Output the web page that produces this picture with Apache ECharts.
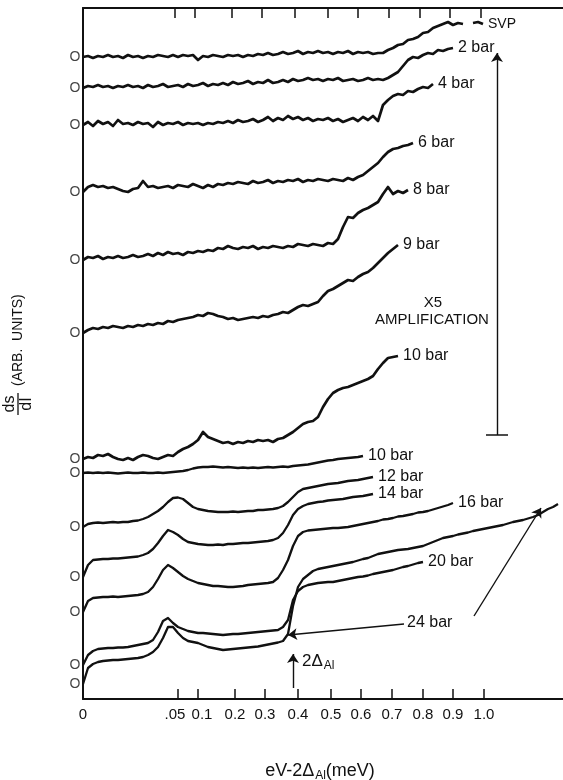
<!DOCTYPE html>
<html><head><meta charset="utf-8">
<script src="https://cdn.jsdelivr.net/npm/echarts@6/dist/echarts.min.js"></script>
<style>html,body{margin:0;padding:0;background:#fff}#c{width:563px;height:780px}</style>
</head><body><div id="c"></div>
<script>
// x axis: trace position (arbitrary units, 0..480); tick labels are eV-2Δ values
const xStep = 5;
const tickPositions = [0, 95, 115, 152, 182, 215, 248, 278, 309, 340, 370, 401];
const tickLabels = ['0', '.05', '0.1', '0.2', '0.3', '0.4', '0.5', '0.6', '0.7', '0.8', '0.9', '1.0'];

// trace values (relative to each trace's own zero), sampled every xStep
const svp = [0,1,-1,1,0,2,0,1,-1,2, 0,1,-1,1,0,2,1,0,2,0, 2,1,2,-3,1,0,2,1,0,2, 1,2,0,2,1,3,2,4,2,3, 5,3,4,6,3,5,4,6,4,5, 3,5,4,6,3,5,4,5,3,4, 4,7,9,12,13,17,18,20,24,25, 29,31,33,35,32,34,33,null,34,35, 33];
const bar2 = [0,2,1,3,1,2,0,2,1,3, 1,2,0,3,1,2,4,1,2,3, 1,4,2,3,5,2,4,3,5,3, 6,4,5,7,4,6,5,8,5,6, 8,6,9,7,8,10,8,9,7,9, 8,10,7,8,9,7,8,10,8,9, 8,10,13,16,22,28,31,30,33,35, 34,38,37,39,40];
const bar4 = [0,3,-1,4,1,3,-1,5,1,2, 0,3,1,2,-2,3,0,2,1,3, 0,2,1,2,0,2,1,3,2,4, 2,5,3,4,6,3,5,8,4,7, 5,9,6,8,5,7,4,6,5,7, 4,6,3,5,7,4,8,5,9,4, 20,25,29,31,30,34,33,36,38,37, 41];
const bar6 = [-2,3,5,3,4,2,3,1,-1,-2, 1,2,9,3,4,2,3,4,2,5, 4,3,6,4,2,5,3,6,5,7, 6,8,7,6,9,7,8,10,7,9, 8,10,9,11,8,10,9,11,10,9, 11,10,9,12,10,13,15,19,23,27, 33,38,41,42,44,45,47];
const bar8 = [0,3,2,4,1,3,2,4,2,3, 5,3,4,6,4,7,5,8,6,7, 5,8,7,9,8,10,9,12,11,14, 12,11,13,12,14,11,13,12,14,13, 12,14,13,16,15,14,16,15,14,17, 16,21,33,43,42,47,50,52,55,58, 66,73,66,69,67,70];
const bar9 = [0,3,5,4,6,5,7,6,5,7, 6,8,7,9,8,10,9,12,11,13, 14,15,16,18,17,20,19,17,16,14, 15,13,14,15,16,15,17,16,18,19, 21,20,23,26,28,27,29,31,37,42, 44,47,50,53,52,56,59,61,65,70, 75,80,84,88];
const bar10amp = [0,2,1,4,3,5,2,0,-1,1, -1,2,4,3,1,0,2,4,3,7, 10,12,15,19,27,22,20,18,16,17, 15,17,16,18,17,19,18,19,17,20, 21,24,27,31,35,37,38,42,52,60, 66,69,71,72,74,76,78,80,83,90, 96,101,102,103];
const bar10 = [0,0.5,0,0.5,0,0.5,0,-0.5,0,0.5, 0,0,0.5,0,0,0.5,0,0.5,1,1.5, 2,3,4.5,5.5,6,6,6.5,6,5.5,6, 5.5,5,5.5,5,5.5,5,5.5,6,5.5,6, 6.5,6,7,7.5,8,8.5,9.5,10.5,11.5,12.5, 13,14,14.5,15,15.5,16,17];
const bar12 = [0,3,4,4.5,4,4.5,5,4.5,5,5, 6,6.5,8,10,13,16,20,25,29,29.5, 28,24,20,18,17,16,15.5,15,15,15, 15.5,15,15.5,16,16,17,17,17.5,18,19, 21,25,30,35,38,39,40,41,42,43, 43.5,44,45,46,46.5,47,48,49,50];
const bar14 = [0,12,17,17.5,18,18,18.5,18.5,19,19.5, 20,20.5,22,24,28,34,41,47,45,42, 38,35,34,33,32.5,32,32,32.5,32,33, 33,33.5,34,34,34.5,35,35.5,36,37,39, 44,52,62,68,71,73,74,75,75.5,76.5, 77,77.5,78,79,80,80.5,81,82,83];
const bar16 = [0,11,14,14.5,15,15,15.5,15,15.5,16, 16.5,17,18,20,25,33,42,47,44,40, 36,33,31,29,28,27,26,26,25.5,25, 25,25.5,26,27,27.5,28,28.5,29,30,34, 42,52,66,76,80,81.5,82,82.5,83,83.5, 84,84,84.5,85,86,87,88,89,90,91, 92.5,93,94,95.5,96,97,98,99.5,100,101, 102.5,104,105.5,107,109];
const bar20 = [0,10,14,16,16.5,17,17,17.5,17.5,18, 19,20,21,22,25,33,44,47,42,38, 36,34,33,32,32,31.5,31,30.5,30,30.5, 31,31,31.5,32,32.5,33,33.5,34,34.5,35, 38,45,65,74,78,80,81,82,82.5,83, 83,84,85,86,87,88,88.5,89.5,91,92, 93,94,95,96.5,98,99,100.5,102,103];
const bar24 = [0,16,20,22,23,23.5,24,24,24.5,25, 25.5,26,27,29,32,37,46,57,57,51, 46,43,42,41,39,37,36,35,34,34.5, 35,35.5,36,36.5,37,37.5,38.5,39.5,40.5,41.5, 43,50,78,97,105,109,113,115,116,117, 118,119,120,121,122,123.5,125,126,128,130, 131,132,133,134,134.5,135,136,137,138,140, 142,144,146,147,148,149.5,150.5,151.5,153,154, 155,156,157,158,159,160.5,162,163,164,165.5, 167,169,172,175,177,180];

const traceNames = ['SVP', '2 bar', '4 bar', '6 bar', '8 bar', '9 bar', '10 bar', '10 bar', '12 bar', '14 bar', '16 bar', '20 bar', '24 bar'];
const traceOffsets = [642, 611, 574, 509, 439, 366, 240, 226, 172, 122, 87, 34, 15];
const traceValues = [svp, bar2, bar4, bar6, bar8, bar9, bar10amp, bar10, bar12, bar14, bar16, bar20, bar24];
const amplified = [true, true, true, true, true, true, true, false, false, false, false, false, false];

// annotation anchors (data units)
const ampArrowX = 414, ampArrowBottom = 264, ampArrowTop = 646, ampBarHalf = 11;
const gapArrowX = 210, gapArrowBottom = 11, gapArrowTop = 45;
const label24Tail1 = [321, 75], label24Tail2 = [391, 83];
const arrow24Index1 = 41, arrow24Index2 = 92;

const FONT = '"Liberation Sans", Arial, Helvetica, sans-serif';
const INK = '#111';

const lineSeries = traceNames.map((name, k) => ({
  type: 'line',
  name: name,
  data: traceValues[k].map((v, i) => [i * xStep, v == null ? '-' : traceOffsets[k] + v]),
  symbol: 'none',
  showSymbol: false,
  connectNulls: false,
  lineStyle: { color: INK, width: amplified[k] ? 2.7 : 2.3, join: 'round' },
  endLabel: {
    show: name !== '24 bar',
    formatter: () => name,
    color: INK,
    fontFamily: FONT,
    fontSize: name === 'SVP' ? 14 : 16,
    distance: 5
  },
  silent: true,
  z: 3
}));

const zeroMarks = {
  type: 'scatter',
  data: traceValues.map((vals, k) => [0, traceOffsets[k] + vals[0]]),
  symbolSize: 1,
  itemStyle: { color: 'rgba(0,0,0,0)' },
  label: { show: true, position: 'left', distance: 2, formatter: 'O', color: INK, fontFamily: FONT, fontSize: 14 },
  silent: true
};

const y24a = traceOffsets[12] + bar24[arrow24Index1];
const y24b = traceOffsets[12] + bar24[arrow24Index2];
const arrows = {
  type: 'lines',
  coordinateSystem: 'cartesian2d',
  symbol: ['none', 'arrow'],
  symbolSize: [0, 9],
  lineStyle: { color: INK, width: 1.4, opacity: 1, curveness: 0 },
  data: [
    { coords: [[ampArrowX, ampArrowBottom], [ampArrowX, ampArrowTop]] },
    { coords: [[gapArrowX, gapArrowBottom], [gapArrowX, gapArrowTop]] },
    { coords: [label24Tail1, [arrow24Index1 * xStep, y24a - 1]] },
    { coords: [label24Tail2, [arrow24Index2 * xStep - 2, y24b + 4]] }
  ],
  silent: true,
  z: 4
};
const ampBar = {
  type: 'lines',
  coordinateSystem: 'cartesian2d',
  symbol: ['none', 'none'],
  lineStyle: { color: INK, width: 1.6, opacity: 1 },
  data: [{ coords: [[ampArrowX - ampBarHalf, ampArrowBottom], [ampArrowX + ampBarHalf, ampArrowBottom]] }],
  silent: true
};

const option = {
  animation: false,
  backgroundColor: '#fff',
  grid: { left: 83, top: 8, width: 480, height: 691 },
  xAxis: [{
    type: 'value', min: 0, max: 480, position: 'bottom',
    axisLine: { show: true, lineStyle: { color: INK, width: 2 } },
    axisTick: { show: true, inside: true, length: 10, customValues: tickPositions.slice(1), lineStyle: { color: INK, width: 1.5 } },
    axisLabel: {
      show: true, customValues: tickPositions, margin: 8, color: INK, fontFamily: FONT, fontSize: 15,
      formatter: v => {
        const t = tickLabels[tickPositions.indexOf(v)];
        if (t === '.05') return '{l|' + t + '}';
        if (t === '0.1') return '{r|' + t + '}';
        return t;
      },
      rich: {
        l: { fontSize: 15, fontFamily: FONT, color: INK, padding: [0, 6, 0, 0] },
        r: { fontSize: 15, fontFamily: FONT, color: INK, padding: [0, 0, 0, 8] }
      }
    },
    splitLine: { show: false }
  }, {
    type: 'value', min: 0, max: 480, position: 'top',
    axisLine: { show: true, lineStyle: { color: INK, width: 2 } },
    axisTick: { show: true, inside: true, length: 10, customValues: tickPositions.slice(1).map(p => p - 3), lineStyle: { color: INK, width: 1.5 } },
    axisLabel: { show: false },
    splitLine: { show: false }
  }],
  yAxis: {
    type: 'value', min: 0, max: 691,
    axisLine: { show: true, lineStyle: { color: INK, width: 2 } },
    axisTick: { show: false }, axisLabel: { show: false }, splitLine: { show: false }
  },
  series: [...lineSeries, zeroMarks, arrows, ampBar],
  graphic: [
    { type: 'text', x: 433, y: 303, style: { text: 'X5', fill: INK, font: '15px ' + FONT, textAlign: 'center', textVerticalAlign: 'middle' } },
    { type: 'text', x: 432, y: 320, style: { text: 'AMPLIFICATION', fill: INK, font: '15px ' + FONT, textAlign: 'center', textVerticalAlign: 'middle' } },
    { type: 'text', x: 407, y: 623, style: { text: '24 bar', fill: INK, font: '16px ' + FONT, textAlign: 'left', textVerticalAlign: 'middle' } },
    { type: 'text', x: 302, y: 661, style: {
      text: '{n|2Δ}{s|Al}', textAlign: 'left', textVerticalAlign: 'middle',
      rich: { n: { fontSize: 17, fontFamily: FONT, fill: INK, color: INK }, s: { fontSize: 12, fontFamily: FONT, fill: INK, color: INK, padding: [9, 0, 0, 1] } }
    } },
    { type: 'text', x: 320, y: 771, style: {
      text: '{n|eV-2Δ}{s|Al}{n|(meV)}', textAlign: 'center', textVerticalAlign: 'middle',
      rich: { n: { fontSize: 18, fontFamily: FONT, fill: INK, color: INK }, s: { fontSize: 12, fontFamily: FONT, fill: INK, color: INK, padding: [10, 0, 0, 1] } }
    } },
    { type: 'group', x: 18, y: 416, rotation: Math.PI / 2, children: [
      { type: 'text', x: 12, y: -8, style: { text: 'ds', fill: INK, font: '16px ' + FONT, textAlign: 'center', textVerticalAlign: 'middle' } },
      { type: 'line', shape: { x1: 1, y1: 0, x2: 23, y2: 0 }, style: { stroke: INK, lineWidth: 1.3 } },
      { type: 'text', x: 12, y: 9, style: { text: 'dI', fill: INK, font: '16px ' + FONT, textAlign: 'center', textVerticalAlign: 'middle' } },
      { type: 'text', x: 30, y: 0, style: { text: '(ARB.  UNITS)', fill: INK, font: '14px ' + FONT, textAlign: 'left', textVerticalAlign: 'middle' } }
    ] }
  ]
};

const chart = echarts.init(document.getElementById('c'), null, { renderer: 'canvas' });
chart.setOption(option);
</script>
</body></html>
